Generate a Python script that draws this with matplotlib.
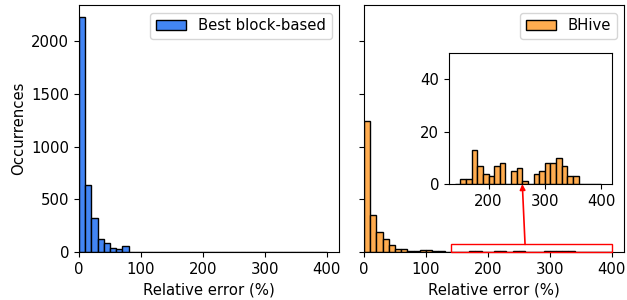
import numpy as np
import matplotlib
matplotlib.use("Agg")
import matplotlib.pyplot as plt
from matplotlib.patches import Rectangle

plt.rcParams["font.size"] = 10.7

# histogram bins: 10% wide, 0..400
bin_edges = np.arange(0, 410, 10)

block_counts = [2230, 635, 322, 123, 82, 38, 25, 57] + [0] * 32

bhive_counts = [1242, 350, 187, 126, 63, 26, 31, 12, 7, 22,
                16, 10, 5, 3, 0, 2, 2, 13, 7, 4,
                3, 7, 8, 0, 5, 6, 1, 0, 4, 5,
                8, 8, 10, 7, 3, 3, 0, 0, 0, 0]

blue = "#4285f4"
orange = "#ffac4f"

fig = plt.figure(figsize=(6.27, 3.0), dpi=100)
ax1 = fig.add_axes([0.126, 0.16, 0.415, 0.823])
ax2 = fig.add_axes([0.5805, 0.16, 0.415, 0.823], sharey=ax1)

left = bin_edges[:-1]
ax1.bar(left, block_counts, width=10, align="edge", color=blue,
        edgecolor="black", linewidth=1, label="Best block-based")
ax2.bar(left, bhive_counts, width=10, align="edge", color=orange,
        edgecolor="black", linewidth=1, label="BHive")

for ax in (ax1, ax2):
    ax.set_xlim(0, 420)
    ax.set_xlabel("Relative error (%)")
    ax.legend(loc="upper right")
ax1.set_ylim(0, 2341)
ax1.set_ylabel("Occurrences")
ax2.tick_params(labelleft=False)

# zoomed view of the tail (>= 140%)
tail = left >= 140
axins = ax2.inset_axes([0.327, 0.275, 0.628, 0.53])
axins.bar(left[tail], np.array(bhive_counts)[tail], width=10, align="edge",
          color=orange, edgecolor="black", linewidth=1)
axins.set_xlim(130, 420)
axins.set_ylim(0, 50)
axins.set_xticks([200, 300, 400])
axins.set_yticks([0, 20, 40])

ax2.add_patch(Rectangle((140, 0), 260, 72, fill=False, edgecolor="red",
                        linewidth=1, zorder=5, clip_on=False))
ax2.annotate("", xy=(260, 0), xycoords=axins.transData,
             xytext=(260, 72), textcoords=ax2.transData,
             arrowprops=dict(arrowstyle="-|>", color="red", lw=1.2,
                             shrinkA=0, shrinkB=0, mutation_scale=8))

fig.savefig("out.png", dpi=100)
